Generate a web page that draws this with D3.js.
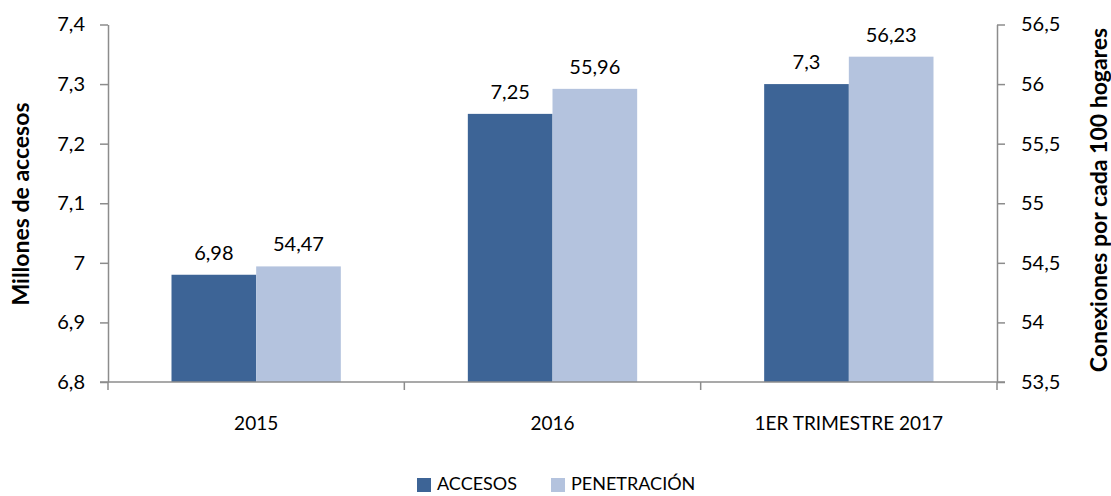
<!DOCTYPE html>
<html>
<head>
<meta charset="utf-8">
<script src="https://cdn.jsdelivr.net/npm/d3@7"></script>
<style>
  body { margin: 0; background: #fff; }
  text { font-family: Lato, "Open Sans", sans-serif; fill: #000; }
</style>
</head>
<body>
<svg id="chart" width="1111" height="496"></svg>
<script>
// datos del gráfico
const categorias = ["2015", "2016", "1ER TRIMESTRE 2017"];
const accesos = [6.98, 7.25, 7.3];
const penetracion = [54.47, 55.96, 56.23];
const series = ["ACCESOS", "PENETRACIÓN"];
const ticksIzq = [6.8, 6.9, 7, 7.1, 7.2, 7.3, 7.4];
const ticksDer = [53.5, 54, 54.5, 55, 55.5, 56, 56.5];

const colores = { ACCESOS: "#3d6496", "PENETRACIÓN": "#b4c3de" };
const gris = "#8c8c8c";
const coma = d => String(d).replace(".", ",");

const margin = { top: 24.5, right: 114, bottom: 114, left: 108 };
const width = 1111 - margin.left - margin.right;
const height = 496 - margin.top - margin.bottom;

const svg = d3.select("#chart")
  .append("g")
  .attr("transform", `translate(${margin.left},${margin.top})`);

const x = d3.scaleBand().domain(categorias).range([0, width]).paddingInner(0).paddingOuter(0);
const xs = d3.scaleBand().domain(series).range([0, x.bandwidth()]).paddingInner(0).paddingOuter(0.75);

const yIzq = d3.scaleLinear().domain([6.8, 7.4]).range([height, 0]);
const yDer = d3.scaleLinear().domain([53.5, 56.5]).range([height, 0]);

// barras
const grupos = svg.selectAll(".grupo")
  .data(categorias)
  .enter()
  .append("g")
  .attr("transform", d => `translate(${x(d)},0)`);

grupos.append("rect")
  .attr("x", xs("ACCESOS"))
  .attr("y", (d, i) => yIzq(accesos[i]))
  .attr("width", xs.bandwidth())
  .attr("height", (d, i) => height - yIzq(accesos[i]))
  .attr("fill", colores.ACCESOS);

grupos.append("rect")
  .attr("x", xs("PENETRACIÓN"))
  .attr("y", (d, i) => yDer(penetracion[i]))
  .attr("width", xs.bandwidth())
  .attr("height", (d, i) => height - yDer(penetracion[i]))
  .attr("fill", colores["PENETRACIÓN"]);

// etiquetas de las barras
grupos.append("text")
  .attr("x", xs("ACCESOS") + xs.bandwidth() / 2)
  .attr("y", (d, i) => yIzq(accesos[i]) - 15)
  .attr("text-anchor", "middle")
  .style("font-size", "20px")
  .text((d, i) => coma(accesos[i]));

grupos.append("text")
  .attr("x", xs("PENETRACIÓN") + xs.bandwidth() / 2)
  .attr("y", (d, i) => yDer(penetracion[i]) - 15)
  .attr("text-anchor", "middle")
  .style("font-size", "20px")
  .text((d, i) => coma(penetracion[i]));

// ejes
const ejeIzq = svg.append("g")
  .call(d3.axisLeft(yIzq).tickValues(ticksIzq).tickFormat(coma).tickSize(8).tickSizeOuter(0));
const ejeDer = svg.append("g")
  .attr("transform", `translate(${width},0)`)
  .call(d3.axisRight(yDer).tickValues(ticksDer).tickFormat(coma).tickSize(8).tickSizeOuter(0));
const ejeX = svg.append("g")
  .attr("transform", `translate(0,${height})`)
  .call(d3.axisBottom(x).tickSize(0).tickSizeOuter(0));

[ejeIzq, ejeDer].forEach(g => {
  g.selectAll("path, line").attr("stroke", gris).attr("stroke-width", 1.5);
  g.selectAll("text").style("font-size", "20px").attr("fill", "#000");
});
ejeIzq.selectAll("text").attr("x", -23);
ejeDer.selectAll("text").attr("x", 24).attr("text-anchor", "start");

ejeX.select("path").attr("stroke", gris).attr("stroke-width", 1.5)
  .attr("d", `M-8,0H${width + 8}`);
ejeX.selectAll("text").style("font-size", "19px").attr("fill", "#000").attr("y", 0).attr("dy", "2.55em");

// marcas entre categorías
svg.selectAll(".sep")
  .data(categorias.concat(["fin"]))
  .enter()
  .append("line")
  .attr("x1", (d, i) => i * x.step())
  .attr("x2", (d, i) => i * x.step())
  .attr("y1", height)
  .attr("y2", height + 8)
  .attr("stroke", gris)
  .attr("stroke-width", 1.5);

// títulos de ejes
svg.append("text")
  .attr("transform", `translate(${21 - margin.left},${204 - margin.top}) rotate(-90)`)
  .attr("text-anchor", "middle")
  .attr("dy", "0.35em")
  .style("font-size", "23px")
  .style("font-weight", "bold")
  .text("Millones de accesos");

svg.append("text")
  .attr("transform", `translate(${1099 - margin.left},${200 - margin.top}) rotate(-90)`)
  .attr("text-anchor", "middle")
  .attr("dy", "0.35em")
  .style("font-size", "23px")
  .style("font-weight", "bold")
  .text("Conexiones por cada 100 hogares");

// leyenda
const leyenda = d3.select("#chart").append("g").attr("transform", "translate(417,484)");
const posLeyenda = [0, 134];
series.forEach((s, i) => {
  const g = leyenda.append("g").attr("transform", `translate(${posLeyenda[i]},0)`);
  g.append("rect").attr("x", 0).attr("y", -6).attr("width", 14).attr("height", 14).attr("fill", colores[s]);
  g.append("text").attr("x", 20).attr("dy", "0.36em").style("font-size", "18px").text(s);
});
</script>
</body>
</html>
